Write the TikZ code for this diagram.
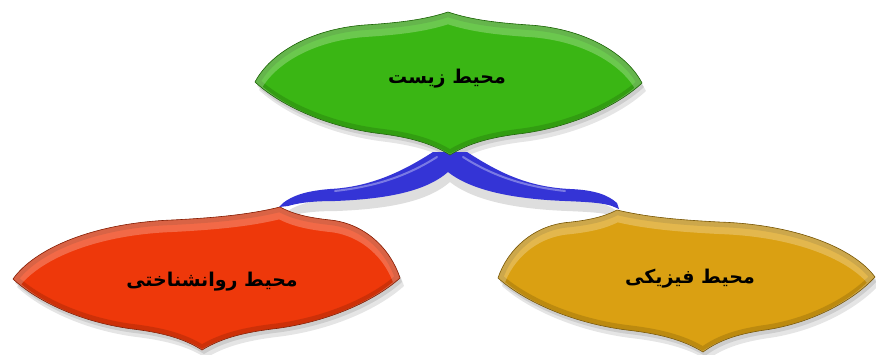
\documentclass[tikz,border=0pt]{standalone}
\usepackage{fontspec}
\newfontfamily\fa[Script=Arabic]{DejaVu Sans}
\TeXXeTstate=1
\usetikzlibrary{calc}
\definecolor{cgreen}{RGB}{58,182,20}
\definecolor{cred}{RGB}{238,56,10}
\definecolor{corange}{RGB}{218,160,18}
\definecolor{cblue}{RGB}{52,52,214}
\newcommand\domepath[4]{let \p1=(#1), \p2=(#2), \p3=(#3), \p4=(#4) in
 (\p1) .. controls ({\x1+0.08*(\x2-\x1)},{\y1+0.42*(\y2-\y1)}) and ({\x1+0.3*(\x2-\x1)},{\y1+0.78*(\y2-\y1)})
      .. ({\x1+0.6*(\x2-\x1)},{\y1+0.82*(\y2-\y1)})
      .. controls ({\x1+0.75*(\x2-\x1)},{\y1+0.85*(\y2-\y1)}) and ({\x1+0.88*(\x2-\x1)},{\y1+0.89*(\y2-\y1)}) .. (\p2)
 .. controls ({\x3+0.88*(\x2-\x3)},{\y3+0.89*(\y2-\y3)}) and ({\x3+0.75*(\x2-\x3)},{\y3+0.85*(\y2-\y3)})
      .. ({\x3+0.6*(\x2-\x3)},{\y3+0.82*(\y2-\y3)})
      .. controls ({\x3+0.3*(\x2-\x3)},{\y3+0.78*(\y2-\y3)}) and ({\x3+0.08*(\x2-\x3)},{\y3+0.42*(\y2-\y3)}) .. (\p3)
 .. controls ({\x3+0.12*(\x4-\x3)},{\y3+0.3*(\y4-\y3)}) and ({\x3+0.35*(\x4-\x3)},{\y3+0.6*(\y4-\y3)})
      .. ({\x3+0.62*(\x4-\x3)},{\y3+0.7*(\y4-\y3)})
      .. controls ({\x3+0.78*(\x4-\x3)},{\y3+0.75*(\y4-\y3)}) and ({\x3+0.9*(\x4-\x3)},{\y3+0.83*(\y4-\y3)}) .. (\p4)
 .. controls ({\x1+0.9*(\x4-\x1)},{\y1+0.83*(\y4-\y1)}) and ({\x1+0.78*(\x4-\x1)},{\y1+0.75*(\y4-\y1)})
      .. ({\x1+0.62*(\x4-\x1)},{\y1+0.7*(\y4-\y1)})
      .. controls ({\x1+0.35*(\x4-\x1)},{\y1+0.6*(\y4-\y1)}) and ({\x1+0.12*(\x4-\x1)},{\y1+0.3*(\y4-\y1)}) .. (\p1) -- cycle}
\newcommand\domeshadow[4]{%
 \fill[black,opacity=.10,transform canvas={shift={(2,4)}}] \domepath{#1}{#2}{#3}{#4};
 \fill[black,opacity=.10,transform canvas={shift={(4,8)}}] \domepath{#1}{#2}{#3}{#4};}
\newcommand\domeshape[5]{%
 \fill[#5] \domepath{#1}{#2}{#3}{#4};
 \begin{scope}
  \clip \domepath{#1}{#2}{#3}{#4};
  \draw[#5!55!black,line width=10pt,opacity=.3] \domepath{#1}{#2}{#3}{#4};
  \draw[white,line width=12pt,opacity=.25,transform canvas={shift={(0,6)}}] \domepath{#1}{#2}{#3}{#4};
 \end{scope}
 \draw[#5!55!black,line width=.6pt] \domepath{#1}{#2}{#3}{#4};}
\tikzset{label/.style={font=\fa\bfseries\fontsize{19}{22}\selectfont,inner sep=0pt}}
\begin{document}
\begin{tikzpicture}[x=1pt,y=-1pt]
\fill[white] (0,0) rectangle (876,354);
\useasboundingbox (0,0) rectangle (876,354);
% key points
\coordinate (gL) at (255,82);  \coordinate (gT) at (448,12);
\coordinate (gR) at (642,83);  \coordinate (gB) at (450,155);
\coordinate (rL) at (13,279);  \coordinate (rT) at (280,207);
\coordinate (rR) at (400,278); \coordinate (rB) at (202,350);
\coordinate (oL) at (498,278); \coordinate (oT) at (617,210);
\coordinate (oR) at (875,277); \coordinate (oB) at (703,352);
% shadows
\domeshadow{gL}{gT}{gR}{gB}
\domeshadow{rL}{rT}{rR}{rB}
\domeshadow{oL}{oT}{oR}{oB}
% connector ribbon
\def\ribbon{($(gB)+(-17,-3)$) .. controls (405,170) and (372,187) .. (330,189)
  .. controls (305,191) and (292,196) .. ($(rT)+(3,-4)$) -- ($(rT)+(-1,0)$) -- ($(rT)+(8,-1)$)
  .. controls (298,203) and (312,201) .. (335,201) .. controls (385,199) and (425,192) .. ($(gB)+(-2,17)$)
  .. controls (472,191) and (515,199) .. (565,201) .. controls (590,202) and (603,203) .. ($(oT)+(-5,-4)$)
  -- ($(oT)+(2,-1)$) -- ($(oT)+(0,-7)$)
  .. controls (608,195) and (595,190) .. (570,189) .. controls (525,187) and (495,170) .. ($(gB)+(17,-3)$) -- cycle}
\fill[black,opacity=.13,transform canvas={shift={(2,10)}}] \ribbon;
\fill[cblue] \ribbon;
\draw[white,opacity=.35,line width=2pt,line cap=round] (437,157) .. controls (410,174) and (380,186) .. (335,191);
\draw[white,opacity=.35,line width=2pt,line cap=round] (463,157) .. controls (490,174) and (520,186) .. (565,191);
% shapes
\domeshape{gL}{gT}{gR}{gB}{cgreen}
\domeshape{rL}{rT}{rR}{rB}{cred}
\domeshape{oL}{oT}{oR}{oB}{corange}
% labels
\node[label] (gtext) at (447,79) {\beginR محیط زیست\endR};
\node[label] (rtext) at (212,282) {\beginR محیط روانشناختی\endR};
\node[label] (otext) at (690,279) {\beginR محیط فیزیکی\endR};
\end{tikzpicture}
\end{document}
